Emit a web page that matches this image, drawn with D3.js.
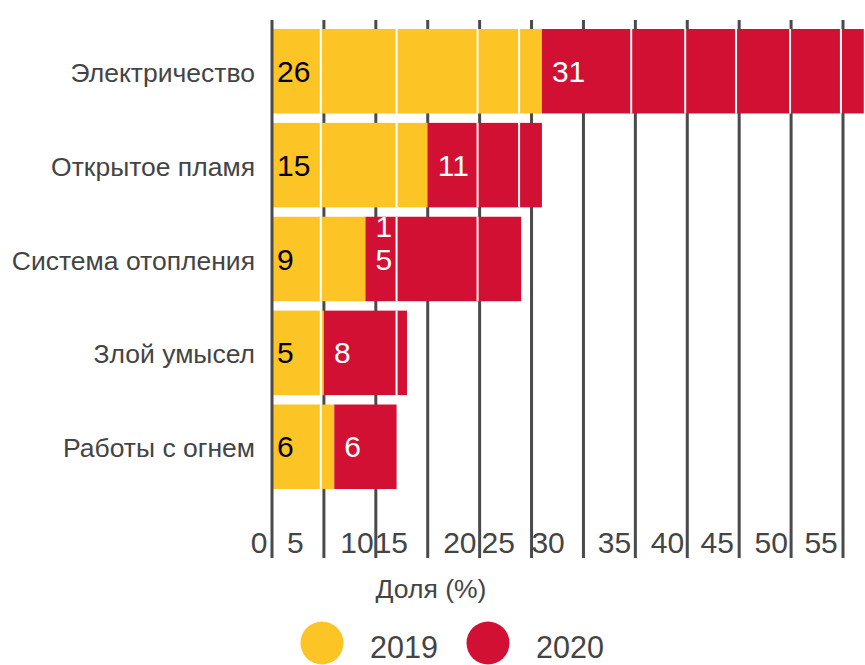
<!DOCTYPE html>
<html>
<head>
<meta charset="utf-8">
<script src="https://cdn.jsdelivr.net/npm/d3@7"></script>
<style>
  body { margin: 0; background: #fff; }
  svg { display: block; font-family: 'Liberation Sans', Arial, sans-serif; }
</style>
</head>
<body>
<div id="chart"></div>
<script>
const categories = ['Электричество', 'Открытое пламя', 'Система отопления', 'Злой умысел', 'Работы с огнем']
const seriesNames = ['2019', '2020']
const values2019 = [26, 15, 9, 5, 6]
const values2020 = [31, 11, 15, 8, 6]
const labels2019 = ['26', '15', '9', '5', '6']
const labels2020 = ['31', '11', '1\n5', '8', '6']
const xTicks = [0, 5, 10, 15, 20, 25, 30, 35, 40, 45, 50, 55]
const tickLabels = ['0', '5', '10', '15', '20', '25', '30', '35', '40', '45', '50', '55']
// where the tick labels end up (data units), they do not sit on the ticks
const tickLabelAt = [-0.45, 3.05, 9.8, 13.1, 19.7, 23.4, 28.2, 34.6, 39.7, 44.5, 49.7, 54.5]
// thin white splits seen inside the bars
const dividers = [4.7, 12, 19.8, 23.8, 34.6, 39.8, 44.7, 49.9, 54.8]

const COLORS = ['#fdc425', '#d21034']
const GRID = '#4a4a4a'
const TEXT = '#444'

const dimensions = {
  width: 865,
  height: 665,
  margin: { top: 29, right: 22, bottom: 176, left: 272 }
}

const rows = categories.map((c, i) => ({
  cat: c,
  2019: values2019[i],
  2020: values2020[i],
  i
}))

const svg = d3.select('#chart').append('svg')
  .attr('width', dimensions.width)
  .attr('height', dimensions.height)

const xScale = d3.scaleLinear()
  .domain([0, 55])
  .range([dimensions.margin.left, dimensions.width - dimensions.margin.right])

const yScale = d3.scaleBand()
  .domain(categories)
  .range([dimensions.margin.top, dimensions.height - dimensions.margin.bottom])
  .paddingInner(0.1)

const stacked = d3.stack().keys(seriesNames)(rows)

// grid lines behind the bars
svg.append('g')
  .selectAll('line')
  .data(xTicks.slice(1))
  .join('line')
  .attr('x1', d => xScale(d))
  .attr('x2', d => xScale(d))
  .attr('y1', 20)
  .attr('y2', 558)
  .attr('stroke', GRID)
  .attr('stroke-width', 3)

// bars
const layers = svg.append('g')
  .selectAll('g')
  .data(stacked)
  .join('g')
  .attr('fill', (d, i) => COLORS[i])

layers.selectAll('rect')
  .data(d => d)
  .join('rect')
  .attr('x', d => xScale(d[0]))
  .attr('y', d => yScale(d.data.cat))
  .attr('width', d => xScale(d[1]) - xScale(d[0]))
  .attr('height', yScale.bandwidth())

// white splits inside each bar
const splits = []
rows.forEach(r => {
  const total = r[2019] + r[2020]
  dividers.forEach(v => {
    if (v > 0.2 && v < total - 0.2) splits.push({ cat: r.cat, v })
  })
})
svg.append('g')
  .selectAll('line')
  .data(splits)
  .join('line')
  .attr('x1', d => xScale(d.v))
  .attr('x2', d => xScale(d.v))
  .attr('y1', d => yScale(d.cat))
  .attr('y2', d => yScale(d.cat) + yScale.bandwidth())
  .attr('stroke', '#fff')
  .attr('stroke-width', 2)

// axis line at zero
svg.append('line')
  .attr('x1', xScale(0))
  .attr('x2', xScale(0))
  .attr('y1', 20)
  .attr('y2', 558)
  .attr('stroke', GRID)
  .attr('stroke-width', 3)

// value labels
svg.append('g')
  .selectAll('text')
  .data(stacked[0])
  .join('text')
  .attr('x', d => xScale(d[0]) + 5)
  .attr('y', d => yScale(d.data.cat) + yScale.bandwidth() / 2)
  .attr('dy', '0.35em')
  .attr('font-size', 30)
  .attr('fill', '#000')
  .text((d, i) => labels2019[i])

svg.append('g')
  .selectAll('text')
  .data(stacked[1])
  .join('text')
  .attr('x', d => xScale(d[0]) + 10)
  .attr('y', d => yScale(d.data.cat) + yScale.bandwidth() / 2)
  .attr('dy', '0.35em')
  .attr('font-size', 30)
  .attr('fill', '#fff')
  .each(function (d, i) {
    const lines = labels2020[i].split('\n')
    const t = d3.select(this)
    lines.forEach((s, k) => {
      t.append('tspan')
        .attr('x', t.attr('x'))
        .attr('dy', k === 0 ? `${0.35 - (lines.length - 1) * 1.1}em` : '1.1em')
        .text(s)
    })
  })

// category labels
svg.append('g')
  .selectAll('text')
  .data(categories)
  .join('text')
  .attr('x', 255)
  .attr('y', d => yScale(d) + yScale.bandwidth() / 2)
  .attr('dy', '0.4em')
  .attr('text-anchor', 'end')
  .attr('font-size', 26.5)
  .attr('fill', TEXT)
  .text(d => d)

// tick labels
svg.append('g')
  .selectAll('text')
  .data(tickLabels)
  .join('text')
  .attr('x', (d, i) => xScale(tickLabelAt[i]))
  .attr('y', 553)
  .attr('text-anchor', 'end')
  .attr('font-size', 30)
  .attr('fill', TEXT)
  .text(d => d)

// axis title
svg.append('text')
  .attr('x', 431)
  .attr('y', 598)
  .attr('text-anchor', 'middle')
  .attr('font-size', 26.5)
  .attr('fill', TEXT)
  .text('Доля (%)')

// legend
const legend = svg.append('g')
  .selectAll('g')
  .data(seriesNames)
  .join('g')
  .attr('transform', (d, i) => `translate(${322 + i * 166}, 643)`)

legend.append('circle')
  .attr('r', 21.5)
  .attr('fill', (d, i) => COLORS[i])

legend.append('text')
  .attr('x', 48)
  .attr('y', 15)
  .attr('font-size', 30.5)
  .attr('fill', TEXT)
  .text(d => d)
</script>
</body>
</html>
